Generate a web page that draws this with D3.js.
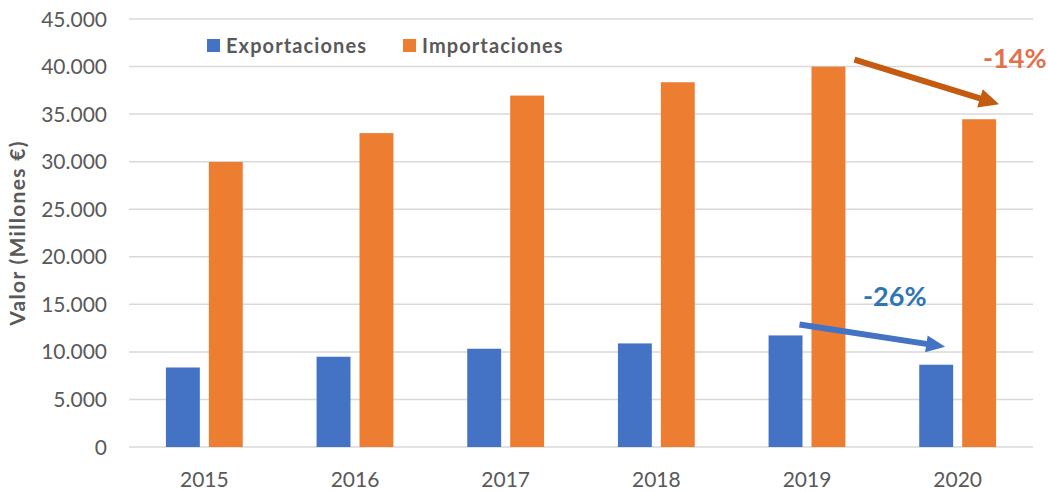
<!DOCTYPE html>
<html>
<head>
<meta charset="utf-8">
<script src="https://cdn.jsdelivr.net/npm/d3@7"></script>
<style>
  body { margin: 0; background: #fff; }
  text { font-family: Lato, "Open Sans", sans-serif; }
</style>
</head>
<body>
<div id="chart"></div>
<script>
// Data
const years = ["2015", "2016", "2017", "2018", "2019", "2020"];
const series = ["Exportaciones", "Importaciones"];
const exportaciones = [8360, 9490, 10330, 10890, 11730, 8650];
const importaciones = [29970, 33000, 36950, 38350, 39990, 34460];
const yTicks = [0, 5000, 10000, 15000, 20000, 25000, 30000, 35000, 40000, 45000];
const colors = { Exportaciones: "#4472C4", Importaciones: "#ED7D31" };

const width = 1048, height = 491;
const margin = { top: 19, right: 15, bottom: 44, left: 129 };

const svg = d3.select("#chart").append("svg")
    .attr("width", width)
    .attr("height", height);

const rows = years.map((y, i) => ({ year: y, Exportaciones: exportaciones[i], Importaciones: importaciones[i] }));

// Scales
const x0 = d3.scaleBand()
    .domain(years)
    .range([margin.left, width - margin.right])
    .paddingInner(0.49)
    .paddingOuter(0.245);

const x1 = d3.scaleBand()
    .domain(series)
    .range([0, x0.bandwidth()])
    .paddingInner(0.21);

const y = d3.scaleLinear()
    .domain([0, 45000])
    .range([height - margin.bottom, margin.top]);

const fmt = d3.formatLocale({ decimal: ",", thousands: ".", grouping: [3], currency: ["", "€"] }).format(",.0f");

// Gridlines
svg.append("g")
    .selectAll("line")
    .data(yTicks)
    .join("line")
    .attr("x1", margin.left)
    .attr("x2", width - margin.right)
    .attr("y1", d => y(d))
    .attr("y2", d => y(d))
    .attr("stroke", "#D9D9D9")
    .attr("stroke-width", 1.5);

// Y axis labels
svg.append("g")
    .selectAll("text")
    .data(yTicks)
    .join("text")
    .attr("x", 107)
    .attr("y", d => y(d))
    .attr("dy", "0.36em")
    .attr("text-anchor", "end")
    .attr("font-size", 21)
    .attr("fill", "#595959")
    .text(d => fmt(d));

// X axis labels
svg.append("g")
    .selectAll("text")
    .data(years)
    .join("text")
    .attr("x", d => x0(d) + x0.bandwidth() / 2)
    .attr("y", 487)
    .attr("text-anchor", "middle")
    .attr("font-size", 21)
    .attr("fill", "#595959")
    .text(d => d);

// Axis title
svg.append("text")
    .attr("transform", `translate(25,${(margin.top + height - margin.bottom) / 2}) rotate(-90)`)
    .attr("text-anchor", "middle")
    .attr("font-size", 21)
    .attr("letter-spacing", 1.3)
    .attr("font-weight", "bold")
    .attr("fill", "#595959")
    .text("Valor (Millones €)");

// Bars
svg.append("g")
    .selectAll("g")
    .data(rows)
    .join("g")
    .attr("transform", d => `translate(${x0(d.year)},0)`)
    .selectAll("rect")
    .data(d => series.map(s => ({ key: s, value: d[s] })))
    .join("rect")
    .attr("x", d => x1(d.key))
    .attr("y", d => y(d.value))
    .attr("width", x1.bandwidth())
    .attr("height", d => y(0) - y(d.value))
    .attr("fill", d => colors[d.key]);

// Legend
const legendPos = [207, 403];
const legend = svg.append("g")
    .selectAll("g")
    .data(series)
    .join("g")
    .attr("transform", (d, i) => `translate(${legendPos[i]},39)`);

legend.append("rect")
    .attr("width", 13)
    .attr("height", 13)
    .attr("fill", d => colors[d]);

legend.append("text")
    .attr("x", 19)
    .attr("y", 14)
    .attr("font-size", 20)
    .attr("letter-spacing", 1.1)
    .attr("font-weight", "bold")
    .attr("fill", "#595959")
    .text(d => d);

// Arrow as polygon from (ax,ay) to tip (bx,by)
function arrowPath(ax, ay, bx, by, w, hl, hw) {
    const dx = bx - ax, dy = by - ay;
    const len = Math.hypot(dx, dy);
    const ux = dx / len, uy = dy / len;
    const nx = -uy, ny = ux;
    const cx = bx - ux * hl, cy = by - uy * hl;
    const pts = [
        [ax + nx * w / 2, ay + ny * w / 2],
        [cx + nx * w / 2, cy + ny * w / 2],
        [cx + nx * hw / 2, cy + ny * hw / 2],
        [bx, by],
        [cx - nx * hw / 2, cy - ny * hw / 2],
        [cx - nx * w / 2, cy - ny * w / 2],
        [ax - nx * w / 2, ay - ny * w / 2]
    ];
    return "M" + pts.map(p => p.join(",")).join("L") + "Z";
}

const i19 = years.indexOf("2019"), i20 = years.indexOf("2020");

// Importaciones arrow
const impEnd19 = x0("2019") + x1("Importaciones") + x1.bandwidth();
const impEnd20 = x0("2020") + x1("Importaciones") + x1.bandwidth();
svg.append("path")
    .attr("d", arrowPath(impEnd19 + 9, y(importaciones[i19]) - 7, impEnd20 + 3, y(importaciones[i20]) - 15, 6, 20, 19))
    .attr("fill", "#C55A11");

// Exportaciones arrow
const expEnd19 = x0("2019") + x1("Exportaciones") + x1.bandwidth();
const expEnd20 = x0("2020") + x1("Exportaciones") + x1.bandwidth();
svg.append("path")
    .attr("d", arrowPath(expEnd19 - 3, y(exportaciones[i19]) - 11, expEnd20 - 8, y(exportaciones[i20]) - 18, 6, 19, 17))
    .attr("fill", "#4472C4");

// Change labels
const pct = (a, b) => Math.round((b - a) / a * 100) + "%";

svg.append("text")
    .attr("x", 983)
    .attr("y", 68)
    .attr("font-size", 27)
    .attr("font-weight", "bold")
    .attr("fill", "#E2704A")
    .text(pct(importaciones[i19], importaciones[i20]));

svg.append("text")
    .attr("x", 863)
    .attr("y", 306)
    .attr("font-size", 27)
    .attr("font-weight", "bold")
    .attr("fill", "#2E75B6")
    .text(pct(exportaciones[i19], exportaciones[i20]));
</script>
</body>
</html>
